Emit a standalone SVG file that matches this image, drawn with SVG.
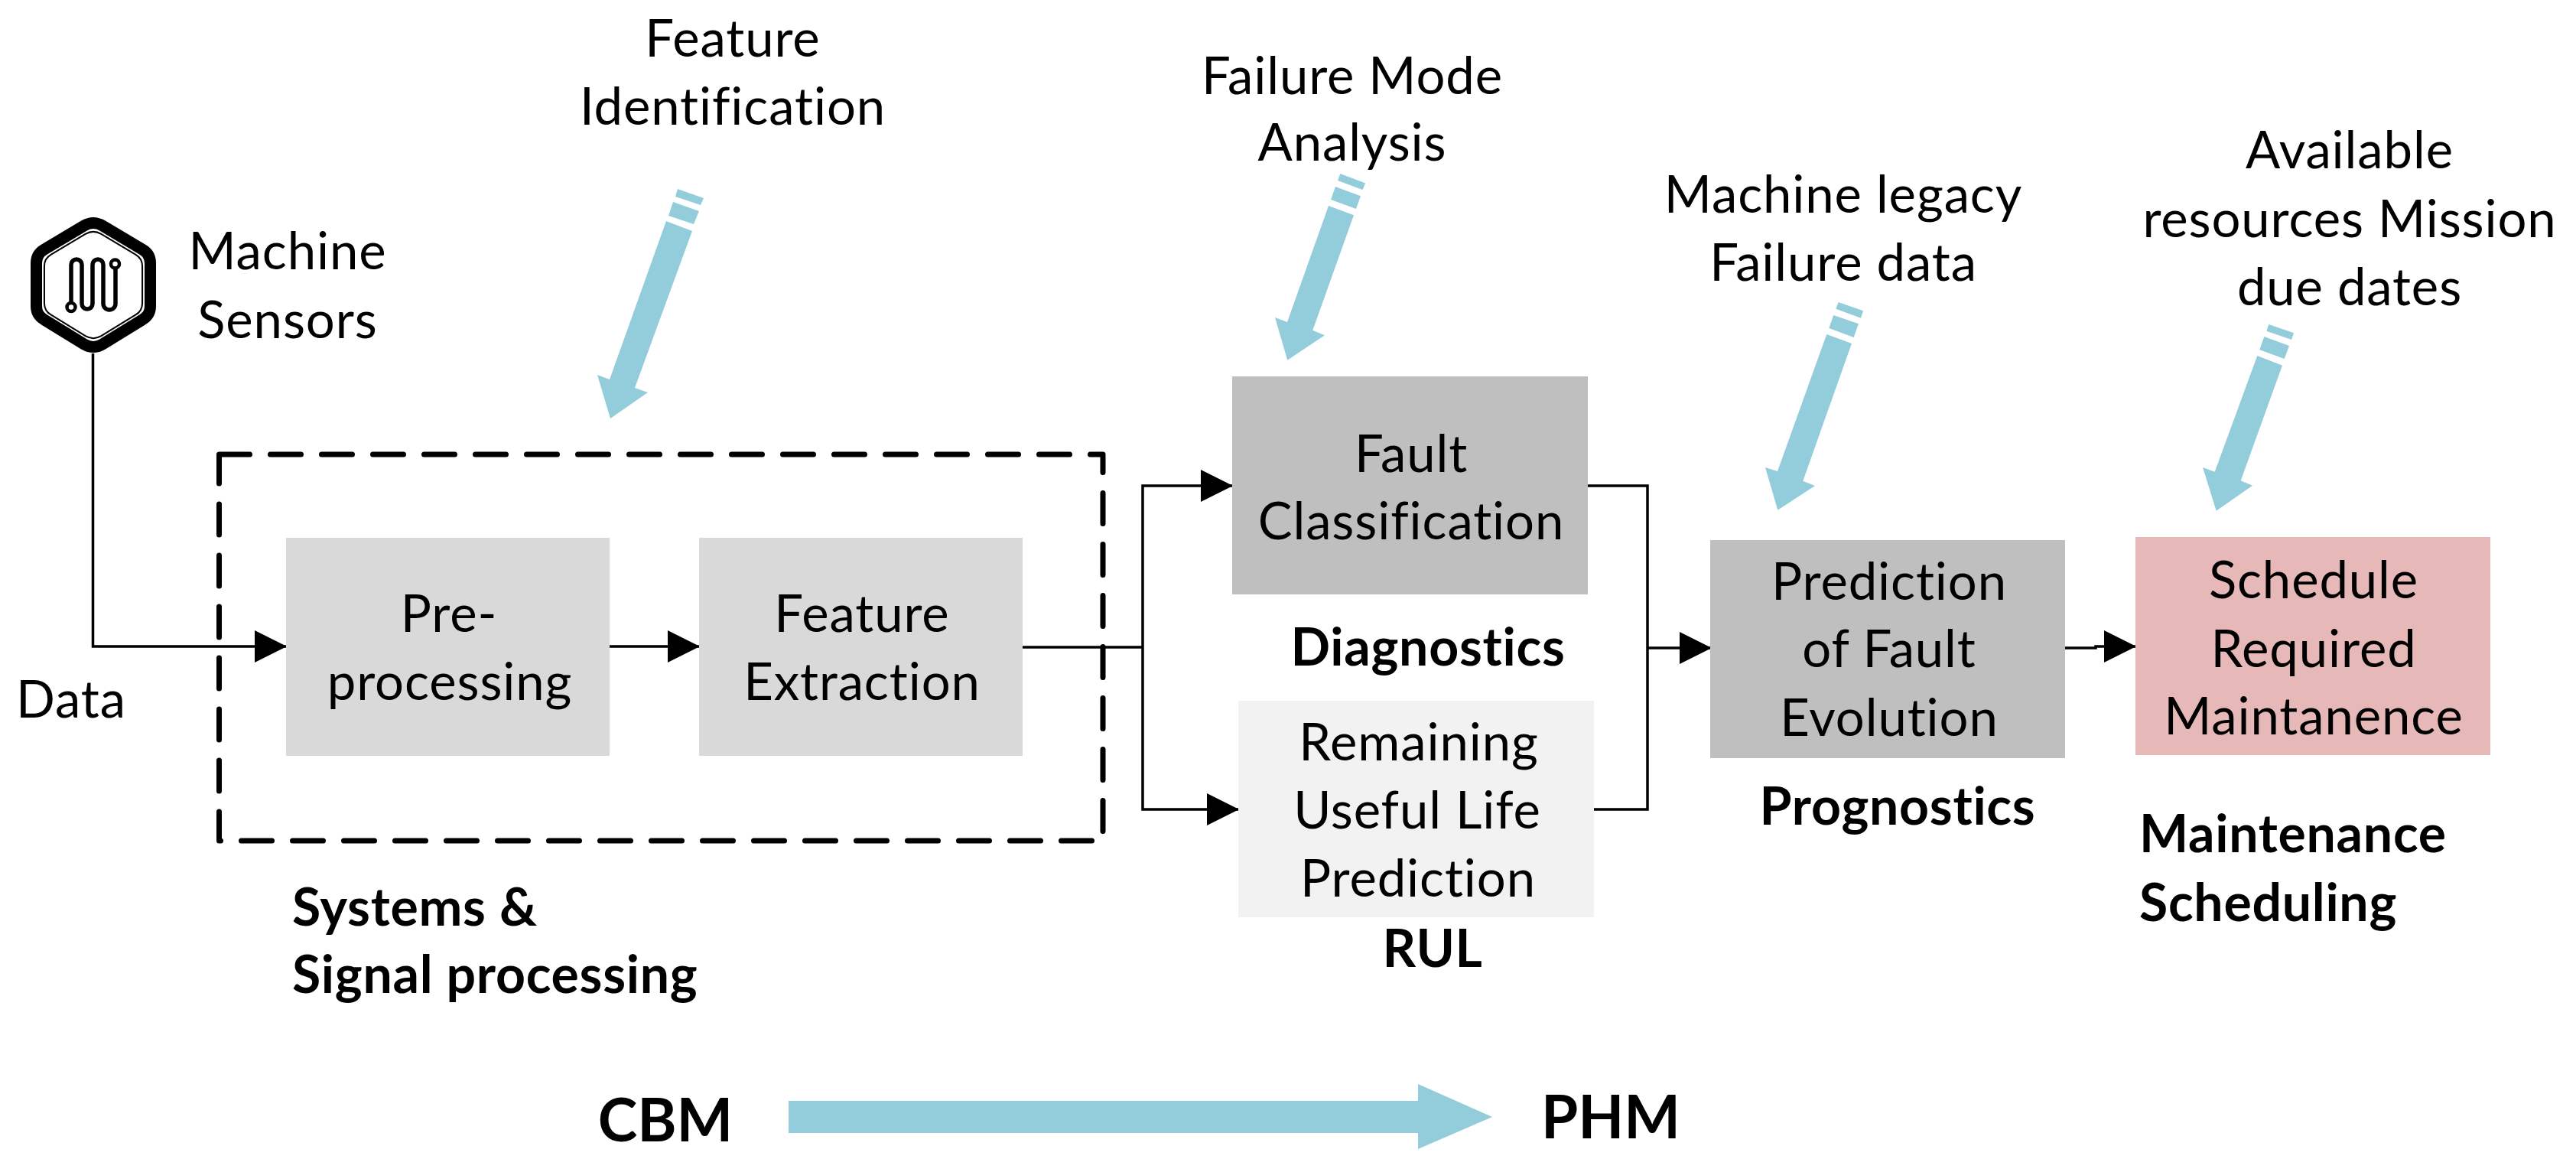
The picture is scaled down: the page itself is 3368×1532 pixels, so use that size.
<svg xmlns="http://www.w3.org/2000/svg" width="3368" height="1532" viewBox="0 0 3368 1532">
<style>
text{font-family:"Lato","Liberation Sans",sans-serif;font-size:67px;letter-spacing:.9px;font-variant-ligatures:none;fill:#000;text-anchor:middle}
.b{font-weight:700;font-size:68px;letter-spacing:.7px}
.s{text-anchor:start}
.big{font-size:78px;font-weight:700;letter-spacing:0}
.c{fill:none;stroke:#000;stroke-width:3.5}
.p{fill:#93CDDC}
</style>
<defs>
<marker id="ah" markerUnits="userSpaceOnUse" markerWidth="42" markerHeight="42" refX="41" refY="21" orient="auto"><path d="M0,0L42,21L0,42Z" fill="#000"/></marker>
</defs>
<rect width="3368" height="1532" fill="#fff"/>
<g id="connectors">
<path class="c" d="M121.5,462V845H374" marker-end="url(#ah)"/>
<path class="c" d="M797,845H914" marker-end="url(#ah)"/>
<path class="c" d="M1336,846H1494"/>
<path class="c" d="M1494,846V635H1611" marker-end="url(#ah)"/>
<path class="c" d="M1494,846V1058H1619" marker-end="url(#ah)"/>
<path class="c" d="M2076,635H2154V1058H2084"/>
<path class="c" d="M2154,847H2237" marker-end="url(#ah)"/>
<path class="c" d="M2700,847H2740V845H2792" marker-end="url(#ah)"/>
</g>
<g id="sensor-icon">
<path d="M110,295Q122,288 134,295L186,326Q196.5,332 196.5,344V400Q196.5,412 186,418L134,450Q122,457 110,450L58,418Q47.5,412 47.5,400V344Q47.5,332 58,326Z" fill="#fff" stroke="#000" stroke-width="15"/>
<path d="M110,295Q122,288 134,295L186,326Q196.5,332 196.5,344V400Q196.5,412 186,418L134,450Q122,457 110,450L58,418Q47.5,412 47.5,400V344Q47.5,332 58,326Z" fill="none" stroke="#000" stroke-width="2.4" transform="translate(122 373) scale(.86) translate(-122 -373)"/>
<path d="M93,396V346A7,7 0 0 1 107,346V397A7,7 0 0 0 121,397V346A7,7 0 0 1 135,346V397A8,8 0 0 0 151,397V351" fill="none" stroke="#000" stroke-width="5.5"/>
<circle cx="93" cy="401.5" r="5.5" fill="#fff" stroke="#000" stroke-width="4.5"/>
<circle cx="150.5" cy="345" r="5.5" fill="#fff" stroke="#000" stroke-width="4.5"/>
<text x="376" y="352">Machine</text>
<text x="376" y="442">Sensors</text>
</g>
<g id="data-label"><text x="93" y="938">Data</text></g>
<g id="systems-group">
<rect x="286.5" y="594" width="1155.5" height="505" fill="none" stroke="#000" stroke-width="7" stroke-dasharray="40 27" stroke-linecap="round" stroke-linejoin="round"/>
<text class="b s" x="382" y="1210">Systems &amp;</text>
<text class="b s" x="382" y="1298">Signal processing</text>
</g>
<g id="preprocessing">
<rect x="374" y="703" width="423" height="285" fill="#D9D9D9"/>
<text x="587" y="826">Pre-</text>
<text x="588" y="915">processing</text>
</g>
<g id="feature-extraction">
<rect x="914" y="703" width="423" height="285" fill="#D9D9D9"/>
<text x="1127" y="826">Feature</text>
<text x="1127" y="915">Extraction</text>
</g>
<g id="fault-classification">
<rect x="1611" y="492" width="465" height="285" fill="#BFBFBF"/>
<text x="1845" y="617">Fault</text>
<text x="1845" y="705">Classification</text>
<text class="b" x="1867" y="870">Diagnostics</text>
</g>
<g id="rul">
<rect x="1619" y="916" width="465" height="283" fill="#F2F2F2"/>
<text x="1855" y="994">Remaining</text>
<text x="1853" y="1083">Useful Life</text>
<text x="1854" y="1172">Prediction</text>
<text class="b" x="1873" y="1264">RUL</text>
</g>
<g id="prediction">
<rect x="2236" y="706" width="464" height="285" fill="#BFBFBF"/>
<text x="2470" y="784">Prediction</text>
<text x="2470" y="872">of Fault</text>
<text x="2470" y="962">Evolution</text>
<text class="b" x="2481" y="1078">Prognostics</text>
</g>
<g id="schedule">
<rect x="2792" y="702" width="464" height="285" fill="#E6B9B8"/>
<text x="3025" y="782">Schedule</text>
<text x="3025" y="872">Required</text>
<text x="3025" y="960">Maintanence</text>
<text class="b s" x="2797" y="1114">Maintenance</text>
<text class="b s" x="2797" y="1204">Scheduling</text>
</g>
<g id="input-feature">
<text x="958" y="74">Feature</text>
<text x="958" y="163">Identification</text>
<path class="p" d="M886,247L920,259L916,268L883,257ZM880,264L914,276L907,293L874,282ZM871,289L905,302L830,507L847,513L798,547L781,490L797,496Z"/>
</g>
<g id="input-failure">
<text x="1768" y="123">Failure Mode</text>
<text x="1768" y="210">Analysis</text>
<path class="p" d="M1752.3,227L1785,239.3L1781.7,248L1749,236ZM1746,244L1779,256.3L1773,273L1740,261ZM1737,269L1770,281.3L1716.3,431.7L1732,438.3L1683.3,470.7L1667,415L1683,421Z"/>
</g>
<g id="input-legacy">
<text x="2410" y="278">Machine legacy</text>
<text x="2410" y="367">Failure data</text>
<path class="p" d="M2403.7,395L2436,406.3L2433,415.7L2400.3,403.7ZM2397.3,412L2430,423.3L2423.7,441L2391.3,429ZM2388.3,437L2421,449L2357.3,628.7L2373,635L2324.3,666.7L2308,611L2324,616Z"/>
</g>
<g id="input-resources">
<text x="3072" y="220">Available</text>
<text x="3072" y="310">resources Mission</text>
<text x="3072" y="399">due dates</text>
<path class="p" d="M2966.3,424L2999,435.3L2996,444L2963.3,432.7ZM2960.3,440L2993,452L2986.7,469L2954.3,457.3ZM2951.3,465L2984,477.7L2929.7,628.3L2945,634.7L2897.7,667.7L2880,611L2895.7,616.7Z"/>
</g>
<g id="cbm-phm">
<text class="big" x="870" y="1492">CBM</text>
<path class="p" d="M1031,1439H1854V1417L1951,1460L1854,1502V1481H1031Z"/>
<text class="big" x="2106" y="1488">PHM</text>
</g>
</svg>
